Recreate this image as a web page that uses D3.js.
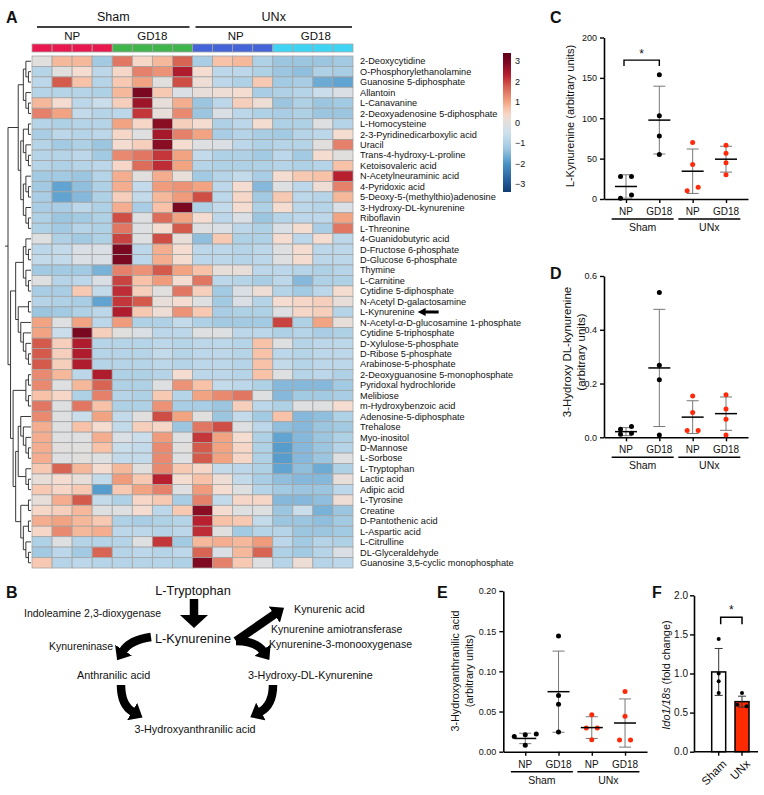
<!DOCTYPE html>
<html><head><meta charset="utf-8">
<script src="https://cdn.jsdelivr.net/npm/d3@7"></script>
<style>
body{margin:0;background:#fff}
svg{display:block}
text{font-family:"Liberation Sans",Arial,Helvetica,sans-serif;fill:#111}
</style>
</head><body>
<svg id="fig" width="764" height="795"></svg>
<script>
// ---------------- DATA ----------------
const metabolites = ["2-Deoxycytidine","O-Phosphorylethanolamine","Guanosine 5-diphosphate","Allantoin","L-Canavanine","2-Deoxyadenosine 5-diphosphate","L-Homocysteine","2-3-Pyridinedicarboxylic acid","Uracil","Trans-4-hydroxy-L-proline","Ketoisovaleric acid","N-Acetylneuraminic acid","4-Pyridoxic acid","5-Deoxy-5-(methylthio)adenosine","3-Hydroxy-DL-kynurenine","Riboflavin","L-Threonine","4-Guanidobutyric acid","D-Fructose 6-phosphate","D-Glucose 6-phosphate","Thymine","L-Carnitine","Cytidine 5-diphosphate","N-Acetyl D-galactosamine","L-Kynurenine","N-Acetyl-\u03B1-D-glucosamine 1-phosphate","Cytidine 5-triphosphate","D-Xylulose-5-phosphate","D-Ribose 5-phosphate","Arabinose-5-phosphate","2-Deoxyguanosine 5-monophosphate","Pyridoxal hydrochloride","Melibiose","m-Hydroxybenzoic acid","Adenosine-5-diphosphate","Trehalose","Myo-inositol","D-Mannose","L-Sorbose","L-Tryptophan","Lactic acid","Adipic acid","L-Tyrosine","Creatine","D-Pantothenic acid","L-Aspartic acid","L-Citrulline","DL-Glyceraldehyde","Guanosine 3,5-cyclic monophosphate"];
const highlighted = "L-Kynurenine";
const sampleGroups = ["ShamNP","ShamNP","ShamNP","ShamNP","ShamGD18","ShamGD18","ShamGD18","ShamGD18","UNxNP","UNxNP","UNxNP","UNxNP","UNxGD18","UNxGD18","UNxGD18","UNxGD18"];
const groupColors = {ShamNP:"#e8184e", ShamGD18:"#3fb54c", UNxNP:"#4464d8", UNxGD18:"#40d4f4"};
const heatValues = [
[0,0.8,0.8,-1.2,1.5,0.4,0.8,1.7,-1.1,0.7,0.8,-1.0,-1.3,-1.3,-1.3,-1.2],
[-0.9,0,0.3,-0.8,0.4,1.4,1.2,2.4,0.3,-0.8,-0.8,-1.0,-1.3,-1.4,-1.0,-1.1],
[-0.8,1.8,0.7,-0.9,0.6,1.0,0,1.9,0.2,-0.8,-1.0,0.6,-1.2,-1.1,-1.7,-1.8],
[-0.9,-0.9,-0.9,-1.0,0.8,3.0,0.6,-0.2,0.1,0.2,0.3,-1.1,-1.0,-0.9,-0.6,-0.2],
[0.8,0.3,-0.8,-0.6,0.5,2.6,0.1,0.9,-1.3,-0.8,0.5,0.2,-1.3,-1.0,-1.3,-1.2],
[1.4,1.0,-0.7,-0.9,-0.8,2.1,0.1,1.3,-1.3,-0.2,-0.8,-1.0,-1.1,-1.0,-1.3,-1.3],
[-0.9,-1.0,-0.9,-0.9,1.0,0.4,2.8,0.5,0.3,-1.0,-0.8,0.3,-1.0,-1.0,-0.1,-0.9],
[-1.1,-0.8,-0.9,-0.8,0.4,-0.1,2.5,1.4,1.0,-1.1,-0.9,-1.1,-1.2,-0.9,-0.8,0.3],
[-0.9,-1.2,-1.0,-1.3,0.3,0.5,2.8,0.3,-0.1,-0.2,-0.8,-1.0,-0.9,-0.9,0,1.4],
[-0.9,-0.9,-0.8,-1.2,1.3,1.5,2.1,1.0,-0.7,-1.0,-1.0,-1.2,-0.8,-1.2,0.3,0],
[-0.9,-1.0,-0.9,-0.8,0.4,1.6,2.2,1.0,-0.9,-1.0,-1.0,-1.0,-0.9,-1.0,-0.9,0.7],
[-1.2,-1.2,-1.3,-0.9,0.9,0,0.9,0.1,-1.2,-0.9,-0.7,-1.1,0.3,0.6,0.7,2.3],
[-1.2,-1.8,-1.4,-1.0,0.9,-0.7,1.1,1.2,1.0,-0.8,0.3,-1.5,-0.1,-0.8,0.2,1.4],
[-1.1,-1.8,-1.5,-1.0,0.5,-0.7,0.8,1.1,1.9,-0.8,0.4,-1.2,0.6,-0.8,-0.9,0.8],
[-1.1,-1.1,-0.8,-1.0,0.9,-1.1,0.7,3.0,-1.0,-0.7,0.3,-1.0,0.3,-0.8,-0.9,-0.2],
[-1.0,-1.3,-1.2,-1.0,1.9,-0.1,1.6,1.0,0.3,-0.8,-0.2,-1.3,-0.9,-0.8,-0.8,1.0],
[-1.0,-1.2,-0.9,-1.0,1.5,-0.1,0.3,1.8,-0.1,-0.2,-0.8,-1.0,-0.2,0.3,-1.1,1.5],
[-0.1,-1.0,-1.2,-1.0,2.0,-0.1,1.9,0.1,-1.4,0.6,-1.0,-1.0,0.3,-0.8,0.3,-0.8],
[-0.8,-0.7,-0.2,-0.2,3.0,-0.8,0.9,0.3,-0.8,-0.8,-0.9,-0.8,-0.1,0.3,-0.8,-0.8],
[-0.7,-0.7,-0.2,-0.2,3.0,-0.8,0.9,0.3,-0.8,-0.8,-0.9,-0.8,-0.1,0.3,-0.8,-0.8],
[-1.2,-1.2,-1.2,-1.6,1.4,1.2,1.8,1.0,0.7,0.1,0.1,-0.8,-0.8,-0.9,-1.0,-0.9],
[-0.1,-0.9,-0.8,-0.2,2.0,0.7,1.1,0.3,1.5,-0.8,-0.9,-1.1,-0.8,-1.5,-1.0,-1.0],
[-1.1,-1.1,0.6,-0.7,2.2,0.5,0,1.5,0.5,-1.2,-0.2,0.2,-0.9,-1.2,-0.8,0.3],
[-0.9,-1.0,-1.1,-1.8,2.1,1.8,0.1,0.3,-0.1,-1.2,-0.2,-0.9,0.3,0.4,0.5,0.1],
[-1.3,-1.2,-1.0,-0.8,2.4,0.6,0.2,1.2,0.6,-1.1,-1.0,-1.0,-0.1,0.4,0.5,-0.9],
[1.0,-0.1,1.0,-0.8,1.1,-1.0,-1.0,-0.7,-1.0,-1.2,-1.2,-1.2,2.0,-1.0,1.0,0.1],
[1.0,-0.6,3.0,0.5,0,-0.2,-0.8,-0.8,-0.1,-0.1,-0.8,-0.8,-1.0,-0.9,-1.1,-1.0],
[1.8,0.5,2.4,-0.9,-0.9,-0.9,-0.8,-0.9,-0.8,-0.8,-0.9,0.7,-0.1,-0.9,-0.8,-0.8],
[1.8,0.5,2.4,-0.9,-0.9,-0.9,-0.7,-0.9,-0.8,-0.8,-0.9,0.7,-0.8,-0.9,-0.8,-0.8],
[1.8,0.5,2.4,-0.9,-0.9,-0.9,-0.8,-0.9,-0.8,-0.8,-0.9,0.7,-0.7,-0.9,-0.8,-0.8],
[1.3,0.8,-0.8,2.4,-1.0,-1.0,-0.9,0.3,-0.8,-0.8,-0.9,0.7,-0.1,-0.9,-0.8,-1.0],
[1.3,-0.1,0.8,1.7,-1.0,-1.0,-0.1,1.2,0.7,-0.7,-0.8,-1.0,-1.5,-1.5,-1.5,-1.2],
[0.7,0.4,-1.0,1.4,-0.9,-1.0,0.6,-0.9,1.0,1.3,1.5,-0.1,-1.5,-1.2,-1.2,-1.1],
[1.5,-0.1,1.5,0.7,-1.0,-1.0,1.2,-1.1,-1.1,-1.3,0.5,-0.8,-1.0,-0.1,-0.1,0.3],
[1.3,-0.1,-0.6,1.0,-0.7,0,1.9,1.0,0,-1.3,-0.7,-1.2,0.7,-1.5,-1.4,-1.0],
[0.9,-0.1,0.7,0.3,-0.7,0.5,0.4,-1.3,1.5,1.9,-0.1,-0.8,-1.4,-1.5,-1.3,-1.2],
[0.9,-0.1,-0.1,0.9,-0.2,-0.6,1.1,-0.1,2.1,1.0,0.3,-1.0,-1.8,-1.5,-1.3,-1.0],
[0.9,0,0,0.7,-0.6,-0.7,1.3,0,1.8,1.0,0.4,-1.0,-1.9,-1.5,-1.3,-0.9],
[0.9,-0.1,0,-0.1,-0.7,-0.7,1.3,-0.1,1.8,1.0,0.4,-1.0,-1.9,-1.5,-1.3,-0.1],
[0.6,1.7,0.8,0.3,0.8,0,1.3,0.6,0.4,-0.7,-0.8,-1.0,-1.8,-1.4,-1.7,-1.0],
[0.1,0.3,0.1,-0.7,1.1,0.6,2.3,0.3,0.7,0.2,-0.7,-1.1,-1.4,-1.5,-1.5,0.1],
[0.6,0.4,0.6,-1.9,0.6,1.0,1.4,-0.1,1.1,0.3,-0.1,-0.9,-1.2,-1.3,-1.3,-0.8],
[0.1,0.9,1.8,-0.7,-1.0,0.4,0.6,-1.1,1.4,-0.7,0.4,0.4,-1.5,-1.5,-1.4,0.2],
[0.4,0.5,0.8,-0.1,-0.1,0.3,-0.8,0.6,2.8,0.3,-0.1,-0.1,-1.3,-0.6,-1.6,-1.3],
[0.9,1.0,0.8,0.6,-1.0,-1.1,-1.0,-0.9,2.3,0.7,0.6,-0.7,-1.3,-1.3,-1.4,-1.2],
[0.4,1.3,0.8,0.9,-0.8,-0.8,-0.9,-0.8,2.2,0,-1.2,-0.9,-0.9,-1.3,-1.3,-1.2],
[-1.0,-0.1,-0.9,-0.9,-0.9,-0.1,2.1,-1.2,0.8,0.9,0.8,1.1,-0.8,-1.2,-0.9,-1.0],
[-1.2,-0.8,-1.2,1.7,-0.9,-0.8,-0.9,-0.8,1.7,-0.2,0.8,1.7,-1.0,-1.2,-0.9,-0.2],
[0.6,-0.9,-0.8,-0.9,-0.9,-0.9,-0.9,-1.0,2.9,1.4,0.6,-0.1,-0.9,0.2,-0.9,-0.8]
];
// row dendrogram (nested row indices)
const rowTree = [
  [[[0,[1,2]],[3,[4,5]]],
   [[[6,7],[8,[9,10]]],[[11,[12,13]],[14,[15,16]]]]],
  [[[[17,[18,19]],[20,[21,22]]],[[23,24],[25,[26,[27,[28,29]]]]]],
   [[[30,31],[32,33]],[[[34,[35,[36,[37,38]]]],[39,[40,41]]],[[42,43],[[44,45],[46,[47,48]]]]]]]
];
const legendTicks = [3,2,1,0,-1,-2,-3];

const groupLabels = ["Sham","UNx"];
const categories = ["NP","GD18","NP","GD18"];
const dotColors = ["#000000","#000000","#ff2a0a","#ff2a0a"];

// Panel C: L-Kynurenine
const kynPoints = [[28,28,5,1],[154,103,78,55],[70,42.6,14.5,10.3],[66.7,56.8,45,30]];
const kynMeans = [15.5,97.7,34.4,49.3];
const kynSD = [14.5,42,27.5,16];
const kynTicks = [0,50,100,150,200];
// Panel D: 3-Hydroxy DL-kynurenine
const hkPoints = [[0.040,0.030,0.015,0.011],[0.539,0.268,0.214,0.009],[0.154,0.092,0.025,0.025],[0.158,0.105,0.067,0.009]];
const hkMeans = [0.021,0.258,0.075,0.088];
const hkSD = [0.015,0.218,0.061,0.062];
const hkTicks = [0,0.2,0.4,0.6];
// Panel E: 3-Hydroxyanthranilic acid
const haPoints = [[0.022,0.021,0.019,0.008],[0.144,0.070,0.059,0.0245],[0.046,0.0295,0.0295,0.015],[0.075,0.044,0.0145,0.0145]];
const haMeans = [0.0165,0.0747,0.030,0.0357];
const haSD = [0.0065,0.0505,0.0135,0.030];
const haTicks = [0,0.05,0.10,0.15,0.20];
// Panel F: Ido1/18s
const idoGroups = ["Sham","UNx"];
const idoPoints = [[1.44,1.0,0.9,0.75],[0.75,0.6,0.58]];
const idoMeans = [1.02,0.64];
const idoSD = [0.30,0.07];
const idoTicks = [0,0.5,1.0,1.5,2.0];

// ---------------- DRAW ----------------
const svg = d3.select("#fig");
const FONT = '"Liberation Sans",Arial,sans-serif';

// colour scale
const heatStops = [-3.4,-3,-2,-1.8,-1.3,-0.9,-0.5,0,0.3,0.7,1.0,1.4,1.8,2.3,2.9,3.4];
const heatCols = ["#133d73","#1d5593","#4a93c6","#62a4d1","#9cc6e0","#b5d4e8","#cfe0ec","#e0dfde","#f5dcd0","#f7c2a8","#f2a482","#e5806a","#d45a4c","#b8202f","#800a22","#5e0018"];
const heat = d3.scaleLinear().domain(heatStops).range(heatCols).interpolate(d3.interpolateRgb).clamp(true);

function letter(t,x,y){ svg.append("text").attr("x",x).attr("y",y).attr("font-size",16).attr("font-weight","bold").text(t); }

// ----- Panel A -----
letter("A",6,23);
const hx = d3.scaleBand().domain(d3.range(16)).range([32,353]);
const hy = d3.scaleBand().domain(d3.range(metabolites.length)).range([56,568]);

// header
const hdr = svg.append("g");
const groupSpans = [[0,7],[8,15]];
groupLabels.forEach((g,i)=>{
  const a = hx(groupSpans[i][0]) + (i===0?5:3), b = hx(groupSpans[i][1]) + hx.bandwidth() - (i===0?3:1);
  hdr.append("line").attr("x1",a).attr("x2",b).attr("y1",27).attr("y2",27).attr("stroke","#000").attr("stroke-width",1.4);
  hdr.append("text").attr("x",(a+b)/2).attr("y",21).attr("text-anchor","middle").attr("font-size",12.5).text(g);
});
categories.forEach((c,i)=>{
  const cx = hx(i*4) + 2*hx.bandwidth() + (i>=2?3:0);
  hdr.append("text").attr("x",cx).attr("y",40).attr("text-anchor","middle").attr("font-size",11.5).text(c);
});
hdr.selectAll("rect.ann").data(sampleGroups).join("rect")
  .attr("x",(d,i)=>hx(i)).attr("y",44).attr("width",hx.bandwidth()).attr("height",8)
  .attr("fill",d=>groupColors[d]).attr("stroke","#a5a5a5").attr("stroke-width",0.8);

// cells
const cells = svg.append("g");
heatValues.forEach((row,r)=>{
  cells.selectAll(null).data(row).join("rect")
    .attr("x",(d,c)=>hx(c)).attr("y",hy(r)).attr("width",hx.bandwidth()).attr("height",hy.bandwidth())
    .attr("fill",d=>heat(d)).attr("stroke","#a3a3a3").attr("stroke-width",0.8);
});
// row labels
const lab = svg.append("g");
lab.selectAll("text").data(metabolites).join("text")
  .attr("x",360).attr("y",(d,i)=>hy(i)+hy.bandwidth()/2+3.2).attr("font-size",9.2).text(d=>d);
lab.selectAll("text").filter(d=>d===highlighted).each(function(d){
  const i = metabolites.indexOf(d);
  const x0 = 360 + this.getComputedTextLength() + 3, yc = hy(i)+hy.bandwidth()/2;
  lab.append("path").attr("d",`M${x0},${yc} L${x0+8},${yc-4} L${x0+8},${yc-1.6} L${x0+21},${yc-1.6} L${x0+21},${yc+1.6} L${x0+8},${yc+1.6} L${x0+8},${yc+4} Z`).attr("fill","#000");
});

// dendrogram
const root = d3.hierarchy(rowTree, d=>Array.isArray(d)?d:null);
const dx = d3.scaleLinear().domain([0,root.height]).range([31,8]);
root.eachAfter(n=>{
  if(!n.children){ n.py = hy(n.data)+hy.bandwidth()/2; }
  else { n.py = (n.children[0].py + n.children[n.children.length-1].py)/2; }
  n.px = dx(n.height);
});
const dg = svg.append("g").attr("stroke","#222").attr("stroke-width",0.9).attr("fill","none");
root.each(n=>{
  if(!n.children) return;
  dg.append("line").attr("x1",n.px).attr("x2",n.px).attr("y1",n.children[0].py).attr("y2",n.children[n.children.length-1].py);
  n.children.forEach(c=>{
    dg.append("line").attr("x1",n.px).attr("x2",c.px).attr("y1",c.py).attr("y2",c.py);
  });
});
dg.append("line").attr("x1",root.px).attr("x2",root.px-3).attr("y1",root.py).attr("y2",root.py);

// colour legend
const ly = d3.scaleLinear().domain([-3.4,3.4]).range([192,53]);
const defs = svg.append("defs");
const grad = defs.append("linearGradient").attr("id","hg").attr("x1",0).attr("x2",0).attr("y1",1).attr("y2",0);
d3.range(0,41).forEach(k=>{
  const v = -3.4 + 6.8*k/40;
  grad.append("stop").attr("offset",k/40).attr("stop-color",heat(v));
});
svg.append("rect").attr("x",503).attr("y",ly(3.4)).attr("width",8).attr("height",ly(-3.4)-ly(3.4)).attr("fill","url(#hg)");
svg.append("g").selectAll("text").data(legendTicks).join("text")
  .attr("x",515).attr("y",d=>ly(d)+3.2).attr("font-size",9).text(d=>d<0?"\u2212"+(-d):d);

// ----- scatter panels -----
function scatterPanel(o){
  const g = svg.append("g");
  const x = d3.scalePoint().domain(d3.range(4)).range([o.x0,o.x1]).padding(0.66);
  const y = d3.scaleLinear().domain([0,o.yMax]).range([o.yb,o.yt]);
  const ya = g.append("g").attr("transform",`translate(${o.x0},0)`)
    .call(d3.axisLeft(y).tickValues(o.ticks).tickFormat(o.fmt).tickSize(4).tickSizeOuter(0));
  const xa = g.append("g").attr("transform",`translate(0,${o.yb})`)
    .call(d3.axisBottom(x).tickSize(4).tickSizeOuter(0).tickFormat(""));
  [ya,xa].forEach(a=>{a.select(".domain").attr("stroke-width",1.6);a.selectAll(".tick line").attr("stroke-width",1.4);});
  ya.selectAll("text").attr("font-size",9).attr("font-family",FONT).attr("fill","#111");
  // category labels
  g.selectAll("text.cat").data(categories).join("text")
    .attr("x",(d,i)=>x(i)).attr("y",o.yb+16).attr("text-anchor","middle").attr("font-size",10).text(d=>d);
  groupLabels.forEach((gl,k)=>{
    const c = (x(2*k)+x(2*k+1))/2;
    g.append("line").attr("x1",c-31).attr("x2",c+31).attr("y1",o.yb+20).attr("y2",o.yb+20).attr("stroke","#000").attr("stroke-width",1.4);
    g.append("text").attr("x",c).attr("y",o.yb+32).attr("text-anchor","middle").attr("font-size",10.5).text(gl);
  });
  // error bars & means
  o.means.forEach((m,i)=>{
    const cx = x(i), lo = Math.max(0,m-o.sd[i]), hi = m+o.sd[i];
    g.append("line").attr("x1",cx).attr("x2",cx).attr("y1",y(lo)).attr("y2",y(hi)).attr("stroke","#777").attr("stroke-width",1);
    [lo,hi].forEach(v=>g.append("line").attr("x1",cx-6).attr("x2",cx+6).attr("y1",y(v)).attr("y2",y(v)).attr("stroke","#777").attr("stroke-width",1));
  });
  // dots: rows of near-equal values spread horizontally
  const r = 2.5;
  o.pts.forEach((arr,i)=>{
    const sorted = arr.slice().sort((a,b)=>b-a);
    const rows = [];
    sorted.forEach(v=>{
      const last = rows[rows.length-1];
      if(last && Math.abs(y(last[0])-y(v)) < 2*r+0.6) last.push(v); else rows.push([v]);
    });
    rows.forEach(rw=>{
      rw.sort((a,b)=>a-b).forEach((v,j)=>{
        g.append("circle").attr("cx",x(i)+(j-(rw.length-1)/2)*11).attr("cy",y(v)).attr("r",r).attr("fill",dotColors[i]);
      });
    });
  });
  o.means.forEach((m,i)=>{
    g.append("line").attr("x1",x(i)-11).attr("x2",x(i)+11).attr("y1",y(m)).attr("y2",y(m)).attr("stroke","#000").attr("stroke-width",1.5);
  });
  // title
  const t = g.append("text").attr("transform",`translate(${o.tx},${o.ty}) rotate(-90)`).attr("text-anchor","middle").attr("font-size",o.tfs);
  o.titles.forEach((s,k)=>t.append("tspan").attr("x",0).attr("y",k*o.tlh).text(s));
  if(o.sig){
    const [a,b] = o.sig, yy = y(o.sigY);
    g.append("path").attr("d",`M${x(a)-2},${yy+6} V${yy} H${x(b)} V${yy+6}`).attr("fill","none").attr("stroke","#000").attr("stroke-width",1.4);
    g.append("text").attr("x",(x(a)+x(b))/2-1).attr("y",yy-2).attr("text-anchor","middle").attr("font-size",12).text("*");
  }
  return g;
}

letter("C",550,23);
scatterPanel({x0:604,x1:748,yb:199,yt:37.5,yMax:200,ticks:kynTicks,fmt:d3.format("d"),
  pts:kynPoints,means:kynMeans,sd:kynSD,titles:["L-Kynurenine (arbitrary units)"],tx:574,ty:116,tfs:11,tlh:0,
  sig:[0,1],sigY:172});

letter("D",550,279);
scatterPanel({x0:604,x1:748,yb:437.3,yt:276,yMax:0.6,ticks:hkTicks,fmt:d3.format(".1f"),
  pts:hkPoints,means:hkMeans,sd:hkSD,titles:["3-Hydroxy DL-kynurenine","(arbitrary units)"],tx:571,ty:352,tfs:11.5,tlh:13.5});

letter("E",437,598);
scatterPanel({x0:503.3,x1:647,yb:751.7,yt:591,yMax:0.2,ticks:haTicks,fmt:d3.format(".2f"),
  pts:haPoints,means:haMeans,sd:haSD,titles:["3-Hydroxyanthranilic acid","(arbitrary units)"],tx:459,ty:671,tfs:10.8,tlh:14});

// ----- Panel F -----
letter("F",652,598);
(function(){
  const g = svg.append("g");
  const x = d3.scaleBand().domain(idoGroups).range([704.7,756]).paddingInner(0.4).paddingOuter(0.3);
  const y = d3.scaleLinear().domain([0,2]).range([751.7,595.3]);
  const ya = g.append("g").attr("transform","translate(694,0)")
    .call(d3.axisLeft(y).tickValues(idoTicks).tickFormat(d3.format(".1f")).tickSize(4).tickSizeOuter(0).tickPadding(2));
  ya.select(".domain").attr("stroke-width",1.6);
  ya.selectAll(".tick line").attr("stroke-width",1.4);
  ya.selectAll("text").attr("font-size",10).attr("font-family",FONT).attr("fill","#111");
  g.append("line").attr("x1",694).attr("x2",758).attr("y1",751.7).attr("y2",751.7).attr("stroke","#000").attr("stroke-width",1.6);
  idoGroups.forEach((k,i)=>{
    const cx = x(k)+x.bandwidth()/2;
    g.append("line").attr("x1",cx).attr("x2",cx).attr("y1",751.7).attr("y2",755.7).attr("stroke","#000").attr("stroke-width",1.4);
    g.append("rect").attr("x",x(k)).attr("y",y(idoMeans[i])).attr("width",x.bandwidth()).attr("height",y(0)-y(idoMeans[i]))
      .attr("fill",i===0?"#fff":"#ff2a00").attr("stroke","#000").attr("stroke-width",1.5);
    const lo = idoMeans[i]-idoSD[i], hi = idoMeans[i]+idoSD[i];
    g.append("line").attr("x1",cx).attr("x2",cx).attr("y1",y(lo)).attr("y2",y(hi)).attr("stroke","#333").attr("stroke-width",1);
    [lo,hi].forEach(v=>g.append("line").attr("x1",cx-4).attr("x2",cx+4).attr("y1",y(v)).attr("y2",y(v)).attr("stroke","#333").attr("stroke-width",1));
    const sorted = idoPoints[i].slice().sort((a,b)=>b-a), rows=[];
    sorted.forEach(v=>{const l=rows[rows.length-1]; if(l && Math.abs(y(l[0])-y(v))<4.6) l.push(v); else rows.push([v]);});
    rows.forEach(rw=>rw.forEach((v,j)=>g.append("circle").attr("cx",cx+(j-(rw.length-1)/2)*9).attr("cy",y(v)).attr("r",2).attr("fill","#000")));
    g.append("text").attr("transform",`translate(${cx+3},${759}) rotate(-45)`).attr("text-anchor","end").attr("font-size",11.5).attr("dy","0.7em").text(k);
  });
  const a = x("Sham")+x.bandwidth()/2+2, b = x("UNx")+x.bandwidth()/2, yy = 617.3;
  g.append("path").attr("d",`M${a},${yy+7} V${yy} H${b} V${yy+7}`).attr("fill","none").attr("stroke","#000").attr("stroke-width",1.5);
  g.append("text").attr("x",(a+b)/2).attr("y",yy-3).attr("text-anchor","middle").attr("font-size",12).text("*");
  const t = g.append("text").attr("transform","translate(670,675) rotate(-90)").attr("text-anchor","middle").attr("font-size",11);
  t.append("tspan").attr("font-style","italic").text("Ido1/18s");
  t.append("tspan").text(" (fold change)");
})();

// ----- Panel B -----
letter("B",6,598);
(function(){
  const g = svg.append("g");
  const mk = (id,w,l)=>{
    defs.append("marker").attr("id",id).attr("markerUnits","userSpaceOnUse").attr("viewBox",`0 0 ${l} ${w}`)
      .attr("markerWidth",l).attr("markerHeight",w).attr("refX",1).attr("refY",w/2).attr("orient","auto")
      .append("path").attr("d",`M0,0 L${l},${w/2} L0,${w} Z`).attr("fill","#000");
  };
  mk("ahBig",28,13); mk("ahSm",20,12);
  const arrows = [
    ["M194,599 L194,616","ahBig"],
    ["M151,637 Q130,640 123,651","ahSm"],
    ["M236,641 L275,614","ahSm"],
    ["M236,641 Q256,641 263,651","ahSm"],
    ["M121,685 Q121,705 133,712","ahSm"],
    ["M273,685 Q273,705 260,712","ahSm"]
  ];
  arrows.forEach(([d,m])=>g.append("path").attr("d",d).attr("fill","none").attr("stroke","#000").attr("stroke-width",8.5).attr("marker-end",`url(#${m})`));
  const T = (s,x,y,fs,anchor)=>g.append("text").attr("x",x).attr("y",y).attr("font-size",fs).attr("text-anchor",anchor||"start").text(s);
  T("L-Tryptophan",193,595,12.8,"middle");
  T("L-Kynurenine",193,643,12.8,"middle");
  T("Indoleamine 2,3-dioxygenase",24,617,10.5);
  T("Kynureninase",49,650,10.5);
  T("Anthranilic acid",77,679,10.8);
  T("3-Hydroxy-DL-Kynurenine",248,679,10.8);
  T("Kynurenic acid",294,613,10.8);
  T("Kynurenine amiotransferase",271,633,10.5);
  T("Kynurenine-3-monooxygenase",269,648,10.5);
  T("3-Hydroxyanthranilic acid",195,733,10.8,"middle");
})();
</script>
</body></html>
